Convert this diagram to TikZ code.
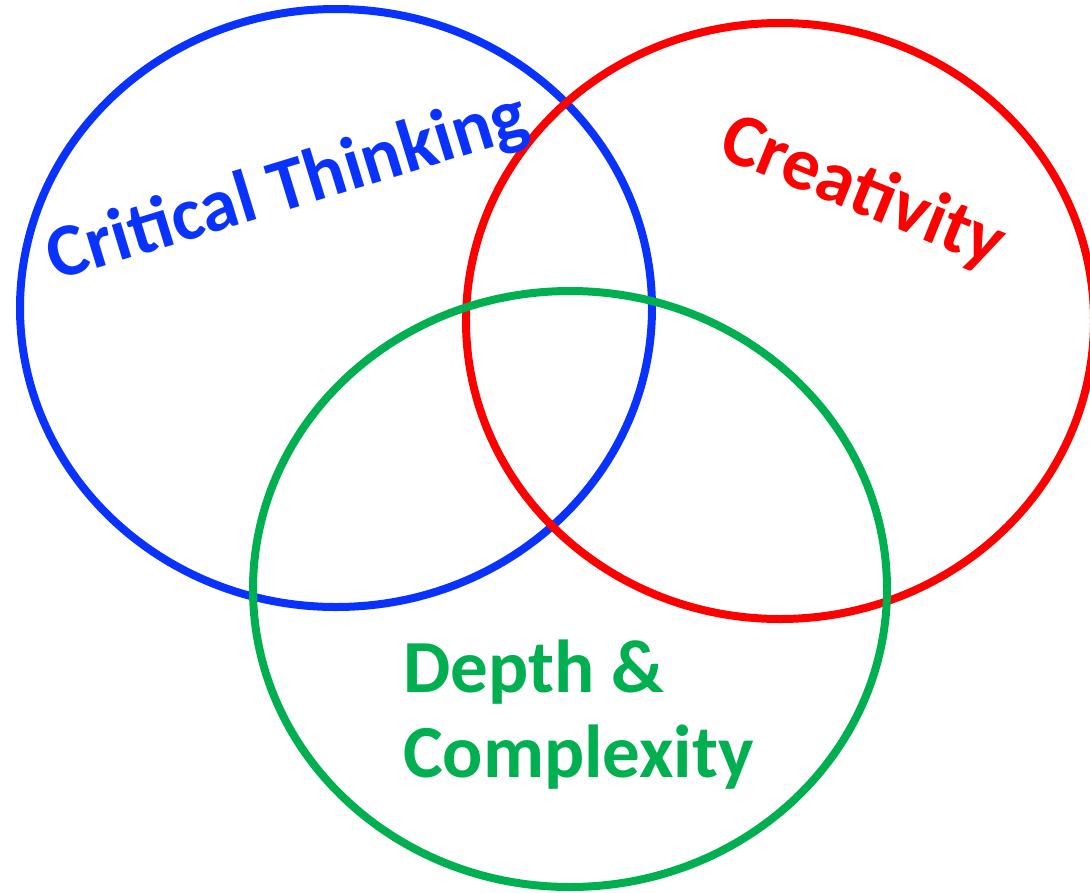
\documentclass[tikz,border=0pt]{standalone}
\usepackage{fontspec}
\setmainfont{Carlito}
\usepackage{tikz}
\usetikzlibrary{calc}
\definecolor{ctblue}{RGB}{10,50,255}
\definecolor{crred}{RGB}{255,0,0}
\definecolor{dcgreen}{RGB}{0,176,80}
\tikzstyle{ring}=[line width=8pt]
\tikzstyle{lbl}=[inner sep=0pt, font=\bfseries\fontsize{75}{85}\selectfont]

\begin{document}
\begin{tikzpicture}[x=1pt,y=-1pt]
        \useasboundingbox (0,0) rectangle (1090,892);
        \coordinate (ct) at (336,308);
        \coordinate (cr) at (780,321);
        \coordinate (dc) at (570,589);
        \draw [ring, ctblue] (ct) ellipse [x radius=316, y radius=299];
        \draw [ring, crred] (cr) ellipse [x radius=314, y radius=298];
        \draw [ring, dcgreen] (dc) ellipse [x radius=317, y radius=298];
        \node [lbl, ctblue, anchor=base west, rotate=17] (think) at (55,281) {Critical Thinking};
        \node [lbl, crred, anchor=base west, rotate=-22] (creat) at (716,156) {Creativity};
        % last line sits on the anchor
        \node [lbl, dcgreen, anchor=base west, align=left] (depth) at (403,777) {Depth \&\\Complexity};
    \end{tikzpicture}
\end{document}
